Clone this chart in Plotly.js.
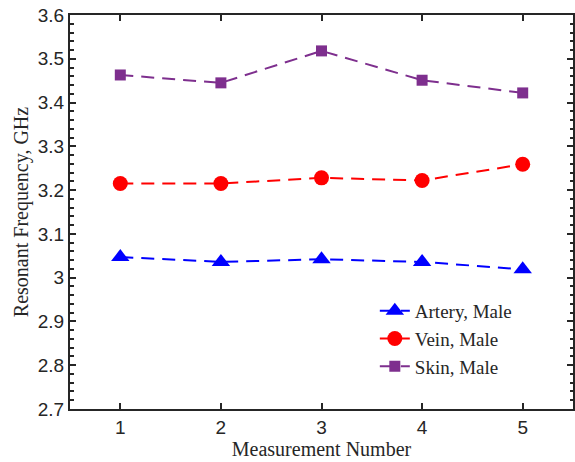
<!DOCTYPE html>
<html><head><meta charset="utf-8">
<script src="https://cdn.plot.ly/plotly-3.0.1.min.js"></script>
<style>body{margin:0;background:#fff}#c{width:575px;height:462px}</style>
</head><body><div id="c"></div>
<script>
var measurement = [1, 2, 3, 4, 5];
var artery = [3.047, 3.036, 3.042, 3.036, 3.019];
var vein = [3.215, 3.215, 3.228, 3.222, 3.259];
var skin = [3.463, 3.445, 3.518, 3.451, 3.422];
var yTickVals = [2.7, 2.8, 2.9, 3.0, 3.1, 3.2, 3.3, 3.4, 3.5, 3.6];
var yTickText = ['2.7','2.8','2.9','3','3.1','3.2','3.3','3.4','3.5','3.6'];
var xTickVals = [1, 2, 3, 4, 5];
var xTickText = ['1','2','3','4','5'];

function tr(y, name, color, sym, size) {
  return {x: measurement, y: y, name: name, type: 'scatter', mode: 'lines+markers',
    line: {color: color, width: 2, dash: '13px,8px'},
    marker: {color: color, symbol: sym, size: size}};
}
var data = [
  tr(artery, 'Artery, Male', '#0000ff', 'triangle-up', 16),
  tr(vein, 'Vein, Male', '#ff0000', 'circle', 15),
  tr(skin, 'Skin, Male', '#7e2f8e', 'square', 11)
];
var serif = 'Liberation Serif, Times New Roman, serif';
var sans = 'Liberation Sans, Arial, sans-serif';
var layout = {
  width: 575, height: 462,
  margin: {l: 70, r: 2, t: 15, b: 53},
  paper_bgcolor: '#fff', plot_bgcolor: '#fff',
  showlegend: true,
  legend: {x: 0.606, y: 0.297, xanchor: 'left', yanchor: 'top', bgcolor: 'rgba(0,0,0,0)',
    font: {family: serif, size: 19, color: '#262626'},
    tracegroupgap: 0, itemwidth: 30},
  xaxis: {range: [0.5, 5.5], tickvals: xTickVals, ticktext: xTickText,
    ticks: 'inside', ticklen: 6, tickwidth: 1.5, tickcolor: '#262626',
    showline: true, linecolor: '#262626', linewidth: 2, mirror: 'ticks',
    showgrid: false, zeroline: false,
    tickfont: {family: sans, size: 19, color: '#262626'},
    title: {text: 'Measurement Number', standoff: 4,
      font: {family: serif, size: 20, color: '#262626'}}},
  yaxis: {range: [2.7, 3.6], tickvals: yTickVals, ticktext: yTickText,
    ticks: 'inside', ticklen: 6, tickwidth: 1.5, tickcolor: '#262626',
    minor: {ticks: 'inside', ticklen: 3.5, dtick: 0.02, tick0: 2.7, tickcolor: '#262626', tickwidth: 1.5},
    showline: true, linecolor: '#262626', linewidth: 2, mirror: 'ticks',
    showgrid: false, zeroline: false,
    tickfont: {family: sans, size: 19, color: '#262626'},
    title: {text: 'Resonant Frequency, GHz', standoff: 4,
      font: {family: serif, size: 20, color: '#262626'}}}
};
Plotly.newPlot('c', data, layout, {displayModeBar: false});
</script></body></html>
